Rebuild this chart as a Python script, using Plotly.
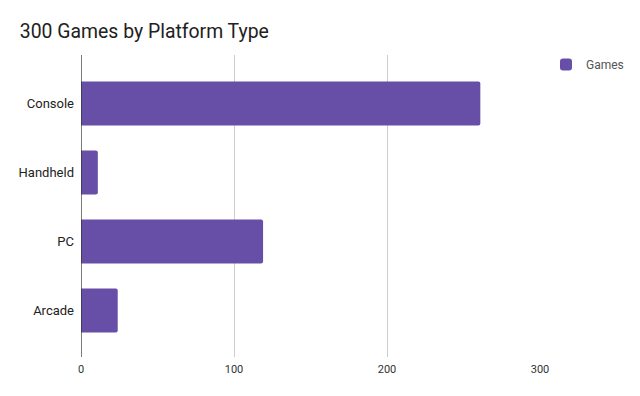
import plotly.graph_objects as go

categories = ["Console", "Handheld", "PC", "Arcade"]
games = [261, 11, 119, 24]
x_ticks = [0, 100, 200, 300]

fig = go.Figure()
fig.add_trace(go.Bar(
    y=categories, x=games, orientation="h", name="Games",
    marker=dict(color="#674ea7", cornerradius=2, line=dict(width=0)),
    showlegend=True,
))

plot_w = 640 - 81 - 20
fig.update_layout(
    width=640, height=396,
    paper_bgcolor="white", plot_bgcolor="white",
    font=dict(family="Roboto, Arial, sans-serif", color="#222222", size=12),
    title=dict(text="300 Games by Platform Type", x=0.031, xanchor="left",
               y=0.92, yanchor="middle",
               font=dict(family="Roboto, Arial, sans-serif", size=19.4, color="#212121")),
    margin=dict(l=81, r=20, t=55, b=39, autoexpand=False),
    bargap=0.36,
    legend=dict(x=(546 - 81) / plot_w, y=1.0166, xanchor="left", yanchor="top",
                font=dict(size=12, color="#555555"), itemwidth=30,
                bgcolor="rgba(0,0,0,0)"),
    xaxis=dict(domain=[0, 459 / plot_w], range=[0, 300], tickvals=x_ticks,
               showgrid=True, gridcolor="#cccccc", automargin=False,
               gridwidth=1, zeroline=False, showline=False, ticks="",
               ticklabelstandoff=4,
               tickfont=dict(size=11, color="#333333")),
    yaxis=dict(type="category", categoryorder="array", categoryarray=categories,
               range=[3.674, -0.703], showgrid=False, zeroline=False,
               showline=False, ticks="", ticklabelstandoff=6, automargin=False,
               tickfont=dict(size=13, color="#222222")),
)
fig.add_vline(x=0, line=dict(color="#333333", width=1.3), layer="above")

fig.write_html("out.html", config={"displayModeBar": False},
               post_script="document.body.style.margin='0';")
